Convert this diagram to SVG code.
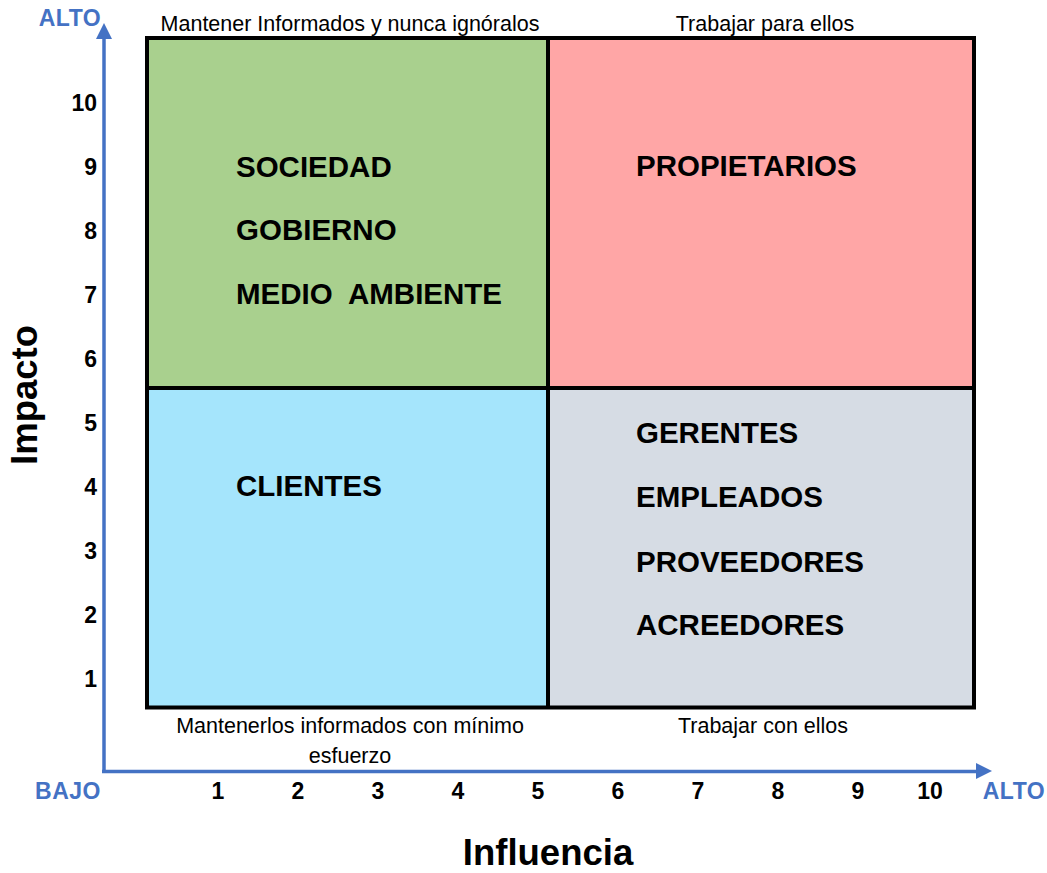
<svg xmlns="http://www.w3.org/2000/svg" width="1047" height="873" viewBox="0 0 1047 873">
<style>
.q{stroke:none}
.lbl{font-family:"Liberation Sans",Arial,sans-serif;font-weight:bold;font-size:29.5px;fill:#000}
.cap{font-family:"Liberation Sans",Arial,sans-serif;font-size:21.5px;fill:#000;text-anchor:middle}
.num{font-family:"Liberation Sans",Arial,sans-serif;font-weight:bold;font-size:23px;fill:#000}
.ax{font-family:"Liberation Sans",Arial,sans-serif;font-weight:bold;font-size:23px;letter-spacing:0.5px;fill:#4472C4}
.title{font-family:"Liberation Sans",Arial,sans-serif;font-weight:bold;font-size:36.5px;fill:#000;text-anchor:middle}
</style>
<rect width="1047" height="873" fill="#fff"/>
<g id="quadrants">
<g id="q-top-left"><rect class="q" x="147" y="38" width="401" height="350" fill="#A9D08E"/></g>
<g id="q-top-right"><rect class="q" x="548" y="38" width="426" height="350" fill="#FFA6A6"/></g>
<g id="q-bottom-left"><rect class="q" x="147" y="388" width="401" height="320" fill="#A5E5FC"/></g>
<g id="q-bottom-right"><rect class="q" x="548" y="388" width="426" height="320" fill="#D6DCE4"/></g>
<g id="grid" fill="none" stroke="#000" stroke-width="4">
<rect x="147" y="38" width="827" height="669.5"/>
<line x1="548" y1="38" x2="548" y2="707.5"/>
<line x1="147" y1="388" x2="974" y2="388"/>
</g>
</g>
<g id="connectors">
<line x1="104" y1="773" x2="104" y2="37" stroke="#4472C4" stroke-width="3.5"/>
<polygon points="104,23 112,39 96,39" fill="#4472C4"/>
<line x1="102" y1="771.5" x2="978" y2="771.5" stroke="#4472C4" stroke-width="3.5"/>
<polygon points="992,771 976,763 976,779" fill="#4472C4"/>
</g>
<g id="labels-tl">
<text class="lbl" x="236" y="177">SOCIEDAD</text>
<text class="lbl" x="236" y="240">GOBIERNO</text>
<text class="lbl" x="236" y="304" xml:space="preserve">MEDIO  AMBIENTE</text>
</g>
<g id="labels-tr">
<text class="lbl" x="636" y="176">PROPIETARIOS</text>
</g>
<g id="labels-bl">
<text class="lbl" x="236" y="496">CLIENTES</text>
</g>
<g id="labels-br">
<text class="lbl" x="636" y="443">GERENTES</text>
<text class="lbl" x="636" y="507">EMPLEADOS</text>
<text class="lbl" x="636" y="572">PROVEEDORES</text>
<text class="lbl" x="636" y="635">ACREEDORES</text>
</g>
<g id="captions">
<text class="cap" x="350" y="31">Mantener Informados y nunca ignóralos</text>
<text class="cap" x="765" y="31">Trabajar para ellos</text>
<text class="cap" x="350" y="733">Mantenerlos informados con mínimo</text>
<text class="cap" x="350" y="763">esfuerzo</text>
<text class="cap" x="763" y="733">Trabajar con ellos</text>
</g>
<g id="y-ticks" class="num" text-anchor="end">
<text x="97" y="111">10</text>
<text x="97" y="175">9</text>
<text x="97" y="239">8</text>
<text x="97" y="303">7</text>
<text x="97" y="367">6</text>
<text x="97" y="431">5</text>
<text x="97" y="495">4</text>
<text x="97" y="559">3</text>
<text x="97" y="623">2</text>
<text x="97" y="687">1</text>
</g>
<g id="x-ticks" class="num" text-anchor="middle">
<text x="218" y="799">1</text>
<text x="298" y="799">2</text>
<text x="378" y="799">3</text>
<text x="458" y="799">4</text>
<text x="538" y="799">5</text>
<text x="618" y="799">6</text>
<text x="698" y="799">7</text>
<text x="778" y="799">8</text>
<text x="858" y="799">9</text>
<text x="930" y="799">10</text>
</g>
<g id="axis-ends">
<text class="ax" x="70" y="26" text-anchor="middle">ALTO</text>
<text class="ax" x="68" y="799" text-anchor="middle">BAJO</text>
<text class="ax" x="1014" y="799" text-anchor="middle">ALTO</text>
</g>
<g id="axis-titles">
<text class="title" x="548" y="865">Influencia</text>
<text class="title" transform="translate(37,395) rotate(-90)">Impacto</text>
</g>
</svg>
